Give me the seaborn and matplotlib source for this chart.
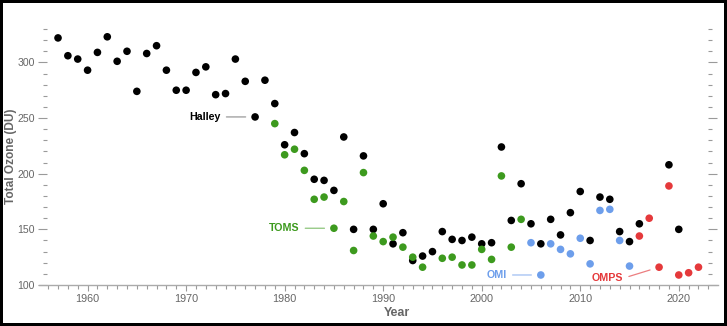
import matplotlib
matplotlib.use("Agg")
import matplotlib.pyplot as plt
import pandas as pd
import seaborn as sns
from matplotlib.ticker import MultipleLocator

# October mean total ozone over Antarctica, by instrument
halley_years = [1957, 1958, 1959, 1960, 1961, 1962, 1963, 1964, 1965, 1966,
                1967, 1968, 1969, 1970, 1971, 1972, 1973, 1974, 1975, 1976,
                1977, 1978, 1979, 1980, 1981, 1982, 1983, 1984, 1985, 1986,
                1987, 1988, 1989, 1990, 1991, 1992, 1993, 1994, 1995, 1996,
                1997, 1998, 1999, 2000, 2001, 2002, 2003, 2004, 2005, 2006,
                2007, 2008, 2009, 2010, 2011, 2012, 2013, 2014, 2015, 2016,
                2019, 2020]
halley_ozone = [322, 306, 303, 293, 309, 323, 301, 310, 274, 308,
                315, 293, 275, 275, 291, 296, 271, 272, 303, 283,
                251, 284, 263, 226, 237, 218, 195, 194, 185, 233,
                150, 216, 150, 173, 137, 147, 122, 126, 130, 148,
                141, 140, 143, 137, 138, 224, 158, 191, 155, 137,
                159, 145, 165, 184, 140, 179, 177, 148, 139, 155,
                208, 150]

toms_years = [1979, 1980, 1981, 1982, 1983, 1984, 1985, 1986, 1987, 1988,
              1989, 1990, 1991, 1992, 1993, 1994, 1996, 1997, 1998, 1999,
              2000, 2001, 2002, 2003, 2004]
toms_ozone = [245, 217, 222, 203, 177, 179, 151, 175, 131, 201,
              144, 139, 143, 134, 125, 116, 124, 125, 118, 118,
              132, 123, 198, 134, 159]

omi_years = [2005, 2006, 2007, 2008, 2009, 2010, 2011, 2012, 2013, 2014, 2015]
omi_ozone = [138, 109, 137, 132, 128, 142, 119, 167, 168, 140, 117]

omps_years = [2016, 2017, 2018, 2019, 2020, 2021, 2022]
omps_ozone = [144, 160, 116, 189, 109, 111, 116]

series = ["Halley", "TOMS", "OMI", "OMPS"]
colors = ["#000000", "#3d9a1e", "#6d9eeb", "#e5393b"]
tick_years = [1960, 1970, 1980, 1990, 2000, 2010, 2020]

sns.set_theme(style="white")
plt.rcParams["font.family"] = ["Liberation Sans", "DejaVu Sans"]

frames = [
    pd.DataFrame({"Year": y, "Ozone": v, "Source": name})
    for name, y, v in [
        ("Halley", halley_years, halley_ozone),
        ("TOMS", toms_years, toms_ozone),
        ("OMI", omi_years, omi_ozone),
        ("OMPS", omps_years, omps_ozone),
    ]
]
df = pd.concat(frames, ignore_index=True)
palette = dict(zip(series, colors))

W, H = 727, 326
fig = plt.figure(figsize=(W / 100, H / 100), dpi=100)
fig.patch.set_facecolor("white")
fig.patch.set_edgecolor("black")
fig.patch.set_linewidth(4.3)

left_px, right_px, bottom_px, top_px = 39.3, 717.7, 285.0, 27.9
ax = fig.add_axes([left_px / W, 1 - bottom_px / H,
                   (right_px - left_px) / W, (bottom_px - top_px) / H])

sns.scatterplot(data=df, x="Year", y="Ozone", hue="Source", palette=palette,
                s=30, linewidth=0, legend=False, ax=ax, zorder=3)

ax.set_xlim(1955.1, 2023.95)
ax.set_ylim(100, 331)
ax.set_xticks(tick_years)
ax.xaxis.set_minor_locator(MultipleLocator(1))
ax.yaxis.set_major_locator(MultipleLocator(50))
ax.yaxis.set_minor_locator(MultipleLocator(10))

for side in ["top", "left", "right"]:
    ax.spines[side].set_visible(False)
ax.spines["left"].set_position(("outward", -5.5))
ax.spines["right"].set_position(("outward", -7.0))
ax.spines["bottom"].set_color("#aaaaaa")
ax.spines["bottom"].set_linewidth(1.0)

ax.tick_params(axis="y", which="both", left=True, right=True, labelright=False,
               direction="out", color="#9a9a9a", width=0.8,
               labelcolor="#666666", labelsize=7.6, pad=2.0)
ax.tick_params(axis="y", which="major", length=6.8)
ax.tick_params(axis="y", which="minor", length=3.2)
ax.tick_params(axis="x", which="both", bottom=True, direction="out",
               color="#9a9a9a", width=0.8, labelcolor="#666666",
               labelsize=7.8, pad=2)
ax.tick_params(axis="x", which="major", length=4.3)
ax.tick_params(axis="x", which="minor", length=2.9)

ax.set_xlabel("Year", fontsize=9, fontweight="bold", color="#666666")
ax.set_ylabel("Total Ozone (DU)", fontsize=8.6, fontweight="bold", color="#666666")
ax.xaxis.set_label_coords(0.527, -0.085)
ax.yaxis.set_label_coords(-0.0325, 0.5)


def tag(name, years, values, year, dx, dy, line_color):
    color = palette[name]
    value = values[years.index(year)]
    ax.annotate(name, xy=(year, value), xytext=(dx, dy),
                textcoords="offset points", ha="right", va="center",
                fontsize=7.7, fontweight="bold", color=color,
                arrowprops=dict(arrowstyle="-", color=line_color, lw=0.9,
                                shrinkA=2, shrinkB=6.8, relpos=(1, 0.5)))


tag("Halley", halley_years, halley_ozone, 1977, -25, 0, "#999999")
tag("TOMS", toms_years, toms_ozone, 1985, -25, 0, "#8cc47a")
tag("OMI", omi_years, omi_ozone, 2006, -24.7, 0, "#9fbff2")
tag("OMPS", omps_years, omps_ozone, 2018, -26, -8, "#ec7e80")

fig.savefig("out.png", dpi=100)
